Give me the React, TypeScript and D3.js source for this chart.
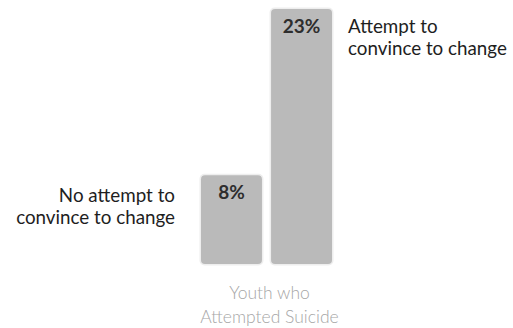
import React from "react";
import * as d3 from "d3";

const categories = ["No attempt to convince to change", "Attempt to convince to change"];
const values = [8, 23];
const valueLabels = ["8%", "23%"];
const labelLines = [
  ["No attempt to", "convince to change"],
  ["Attempt to", "convince to change"],
];
const axisLabel = ["Youth who", "Attempted Suicide"];

const W = 513;
const H = 328;

export default function App() {
  const x = d3.scaleBand<string>().domain(categories).range([201, 332]).paddingInner(0.13).paddingOuter(0);
  const y = d3.scaleLinear().domain([0, 23]).range([264, 9]);
  const bw = x.bandwidth();
  const font = "Lato, 'Open Sans', sans-serif";
  const cx = (201 + 332) / 2 + 3;

  return (
    <svg width={W} height={H} style={{ position: "absolute", left: 0, top: 0, background: "#fff" }}>
      {categories.map((c, i) => {
        const x0 = x(c)!;
        const y0 = y(values[i]);
        const h = y(0) - y0;
        return (
          <g key={c}>
            <rect x={x0 - 1.5} y={y0 - 1.5} width={bw + 3} height={h + 3} rx={5} fill="#eeeeee" />
            <rect x={x0} y={y0} width={bw} height={h} rx={4} fill="#bababa" />
            <text x={x0 + bw / 2} y={y0 + 24} textAnchor="middle" fontFamily={font} fontWeight={700} fontSize={19} fill="#2e2e2e">
              {valueLabels[i]}
            </text>
          </g>
        );
      })}
      {(() => {
        const x0 = x(categories[0])!;
        const yt = y(values[0]);
        return (
          <text x={x0 - 26} y={yt + 27} textAnchor="end" fontFamily={font} fontSize={18.8} fill="#1e1e1e">
            {labelLines[0].map((l, j) => (
              <tspan key={j} x={x0 - 26} dy={j === 0 ? 0 : 22}>{l}</tspan>
            ))}
          </text>
        );
      })()}
      {(() => {
        const x1 = x(categories[1])! + bw;
        const yt = y(values[1]);
        return (
          <text x={x1 + 16} y={yt + 24} textAnchor="start" fontFamily={font} fontSize={18.8} fill="#1e1e1e">
            {labelLines[1].map((l, j) => (
              <tspan key={j} x={x1 + 16} dy={j === 0 ? 0 : 22}>{l}</tspan>
            ))}
          </text>
        );
      })()}
      <text x={cx} y={y(0) + 35} textAnchor="middle" fontFamily={font} fontSize={17.5} fill="#a6a6a6" fontWeight={300}>
        {axisLabel.map((l, j) => (
          <tspan key={j} x={cx} dy={j === 0 ? 0 : 24}>{l}</tspan>
        ))}
      </text>
    </svg>
  );
}
